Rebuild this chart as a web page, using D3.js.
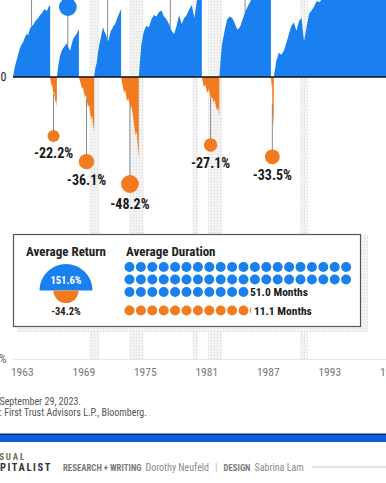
<!DOCTYPE html>
<html><head><meta charset="utf-8">
<script src="https://cdn.jsdelivr.net/npm/d3@7"></script>
<style>
html,body{margin:0;padding:0;background:#fff;overflow:hidden}
svg{display:block}
text{font-family:"Roboto Condensed","Liberation Sans Narrow","Arial Narrow","DejaVu Sans Condensed",sans-serif}
</style></head><body>
<svg id="c" width="386" height="483"></svg>
<script>
// ---------- DATA ----------
const bullStart = ["1962-06-26","1966-10-07","1970-05-26","1974-10-03","1982-08-12","1987-12-04"];
const bullEnd   = ["1966-02-09","1968-11-29","1973-01-11","1980-11-28","1987-08-25","2000-03-24"];
const bullReturn = [79.8, 48.0, 74.2, 125.6, 228.8, 582.1];
const bullPaths = [
  [0,8,14,20,26,30,33,38,42,41,48,52,53,57,60,62,66,68,72,74,71,77,79.8],
  [0,10,18,23,26,28,30,32,27,24,30,36,39,41,44,48],
  [0,8,12,22,30,36,44,50,45,42,38,34,40,46,48,52,53,57,62,66,70,74.2],
  [0,30,45,52,50,60,66,64,70,72,64,60,54,46,42,52,66,54,62,66,74,80,62,85,105,125.6],
  [0,30,45,60,64,62,55,47,50,60,70,78,85,95,110,130,125,140,170,195,228.8],
  [0,14,22,20,24,32,42,52,56,46,58,62,34,50,68,72,78,86,84,88,92,98,100,104,106,104,100,104,104,115,135,155,170,185,195,200,225,245,270,320,330,340,400,420,360,440,480,510,500,560,582.1]
];
const bearStart = ["1966-02-09","1968-11-29","1973-01-11","1980-11-28","1987-08-25"];
const bearEnd   = ["1966-10-07","1970-05-26","1974-10-03","1982-08-12","1987-12-04"];
const bearReturn = [-22.2, -36.1, -48.2, -27.1, -33.5];
const bearPaths = [
  [0,-4,-7,-6,-10,-13,-12,-16,-19,-17,-22.2],
  [0,-3,-6,-9,-8,-12,-15,-14,-18,-22,-20,-25,-29,-27,-32,-36.1],
  [0,-5,-9,-12,-10,-15,-18,-16,-20,-23,-21,-25,-30,-34,-38,-36,-43,-48.2],
  [0,-5,-8,-6,-10,-12,-9,-14,-16,-15,-19,-17,-21,-24,-22,-27.1],
  [0,-4,-8,-6,-33,-26,-30,-33.5]
];
const recessionStart = ["1969-12-01","1973-11-01","1980-01-01","1981-07-01","1990-07-01"];
const recessionEnd   = ["1970-11-30","1975-03-31","1980-07-31","1982-11-30","1991-03-31"];
const yearTicks = [1963,1969,1975,1981,1987,1993,1999];
const yTickValues = [0, -90];
const yTickLabels = ["0", "-90%"];
const legendTitles = ["Average Return", "Average Duration"];
const avgReturn = [151.6, -34.2];
const avgDuration = [51.0, 11.1];
const noteText = ["Note: Data as of ", "September 29, 2023."];
const sourceText = ["Source", ": First Trust Advisors L.P., Bloomberg."];
const credits = ["RESEARCH + WRITING", "Dorothy Neufeld", "|", "DESIGN", "Sabrina Lam"];

// ---------- SETUP ----------
const BLUE = "#1a80f0", ORANGE = "#f47a1f";
const parse = d3.timeParse("%Y-%m-%d");
const svg = d3.select("#c");
svg.append("rect").attr("width",386).attr("height",483).attr("fill","#fff");
const defs = svg.append("defs");
const pat = defs.append("pattern").attr("id","dots").attr("width",3).attr("height",3).attr("patternUnits","userSpaceOnUse");
pat.append("rect").attr("width",3).attr("height",3).attr("fill","#f4f4f4");
pat.append("circle").attr("cx",1.5).attr("cy",1.5).attr("r",0.7).attr("fill","#dcdcdc");

const x = d3.scaleTime().domain([new Date(1962,5,26), new Date(1998,10,16)]).range([13,386]);
const y = d3.scaleLog().domain([0.1, 1]).range([359, 77]);
const yv = v => y(1 + v/100);
const rScale = d3.scaleSqrt().domain([0, 48.2]).range([0, 8.9]);
const bearMarkY = d3.scaleLinear().domain([0, -50]).range([95, 187.3]);
const bullMarkY = d3.scaleLinear().domain([0, 48]).range([77, 7]);

function seg(s, e, vals){
  const a = parse(s), b = parse(e), n = vals.length;
  return vals.map((v,i)=>({t:new Date(+a + (b-a)*i/(n-1)), v}));
}
function valAt(vals, f){ const p = f*(vals.length-1), i = Math.floor(p); const j = Math.min(i+1, vals.length-1); return vals[i] + (vals[j]-vals[i])*(p-i); }

// recession bars
svg.append("g").selectAll("rect").data(recessionStart).join("rect")
  .attr("x",(d,i)=>x(parse(d)))
  .attr("width",(d,i)=>x(parse(recessionEnd[i]))-x(parse(d)))
  .attr("y",0).attr("height",359)
  .attr("fill","url(#dots)");

const area = d3.area().x(d=>x(d.t)).y0(y(1)).y1(d=>yv(d.v));
svg.append("g").selectAll("path").data(bullPaths).join("path")
  .attr("d",(d,i)=>area(seg(bullStart[i], bullEnd[i], d))).attr("fill",BLUE);
svg.append("g").selectAll("path").data(bearPaths).join("path")
  .attr("d",(d,i)=>area(seg(bearStart[i], bearEnd[i], d))).attr("fill",ORANGE);

// baseline
svg.append("line").attr("x1",13).attr("x2",386).attr("y1",y(1)).attr("y2",y(1)).attr("stroke","#111").attr("stroke-width",1.5);

// bull markers (their labels sit above the visible area)
const mid = (s,e)=> new Date((+parse(s) + +parse(e))/2);
const bullG = svg.append("g");
bullReturn.forEach((v,i)=>{
  const mx = x(mid(bullStart[i], bullEnd[i]));
  const cy = bullMarkY(v), r = rScale(v);
  bullG.append("line").attr("x1",mx).attr("x2",mx).attr("y1",cy).attr("y2",yv(valAt(bullPaths[i],0.5)))
    .attr("stroke","#8a8a8a").attr("stroke-width",1);
  bullG.append("circle").attr("cx",mx).attr("cy",cy).attr("r",r).attr("fill",BLUE);
});
// bear markers
const bearG = svg.append("g");
bearReturn.forEach((v,i)=>{
  const mx = x(mid(bearStart[i], bearEnd[i]));
  const cy = bearMarkY(v), r = rScale(-v);
  bearG.append("line").attr("x1",mx).attr("x2",mx).attr("y1",yv(valAt(bearPaths[i],0.5))).attr("y2",cy)
    .attr("stroke","#8a8a8a").attr("stroke-width",1);
  bearG.append("circle").attr("cx",mx).attr("cy",cy).attr("r",r).attr("fill",ORANGE);
  bearG.append("text").attr("x",mx).attr("y",cy+r+16).attr("text-anchor","middle")
    .attr("font-size",14).attr("font-weight",700).attr("fill","#1a1a1a").text(v.toFixed(1)+"%");
});

// axis
svg.append("line").attr("x1",13).attr("x2",386).attr("y1",359.5).attr("y2",359.5).attr("stroke","#e6e6e6");
svg.append("g").selectAll("text").data(yearTicks).join("text")
  .attr("x",d=>x(new Date(d,0,1))+4).attr("y",376).attr("text-anchor","middle")
  .attr("font-size",11.5).attr("fill","#777").text(d=>d);
svg.append("g").selectAll("text").data(yTickValues).join("text")
  .attr("x",6.5).attr("y",d=>yv(d)).attr("dy","0.36em").attr("text-anchor","end")
  .attr("font-size",12).attr("fill",(d,i)=>i===0?"#222":"#666").text((d,i)=>yTickLabels[i]);

// legend box
const lg = svg.append("g");
lg.append("rect").attr("x",17).attr("y",235).attr("width",351).attr("height",97).attr("fill","url(#dots)");
lg.append("rect").attr("x",13.5).attr("y",234.5).attr("width",347).attr("height",92).attr("fill","#fff").attr("stroke","#555").attr("stroke-width",1.2);
lg.append("text").attr("x",66).attr("y",256).attr("text-anchor","middle").attr("font-size",13).attr("font-weight",700).attr("fill","#222").text(legendTitles[0]);
const hr = d3.scaleSqrt().domain([0,151.6]).range([0,26.5]);
lg.append("path").attr("transform","translate(66,290.5)").attr("fill",BLUE)
  .attr("d", d3.arc()({innerRadius:0, outerRadius:hr(avgReturn[0]), startAngle:-Math.PI/2, endAngle:Math.PI/2}));
lg.append("path").attr("transform","translate(66,290.5)").attr("fill",ORANGE)
  .attr("d", d3.arc()({innerRadius:0, outerRadius:hr(-avgReturn[1]), startAngle:Math.PI/2, endAngle:Math.PI*1.5}));
lg.append("text").attr("x",66).attr("y",284).attr("text-anchor","middle").attr("font-size",10.5).attr("font-weight",700).attr("fill","#fff").text(avgReturn[0].toFixed(1)+"%");
lg.append("text").attr("x",66).attr("y",315).attr("text-anchor","middle").attr("font-size",10.5).attr("font-weight",700).attr("fill","#222").text(avgReturn[1].toFixed(1)+"%");

lg.append("text").attr("x",126).attr("y",256).attr("font-size",13).attr("font-weight",700).attr("fill","#222").text(legendTitles[1]);
const dx0 = 129.5, dstep = 11.4, dr = 5, perRow = 20;
const rowY = [267, 279.5, 292];
const blueFull = Math.floor(avgDuration[0]);
const blueDots = d3.range(blueFull).map(i=>({cx:dx0 + (i%perRow)*dstep, cy:rowY[Math.floor(i/perRow)]}));
lg.append("g").selectAll("circle").data(blueDots).join("circle").attr("cx",d=>d.cx).attr("cy",d=>d.cy).attr("r",dr).attr("fill",BLUE);
const lastBlue = blueDots[blueDots.length-1];
lg.append("text").attr("x",lastBlue.cx+dr+1.5).attr("y",lastBlue.cy+4).attr("font-size",11.5).attr("font-weight",700).attr("fill","#1a1a1a").text(avgDuration[0].toFixed(1)+" Months");
const oy = 310.5;
const orFull = Math.floor(avgDuration[1]);
const orFrac = avgDuration[1]-orFull;
const orDots = d3.range(orFull).map(i=>({cx:dx0 + i*dstep, cy:oy}));
lg.append("g").selectAll("circle").data(orDots).join("circle").attr("cx",d=>d.cx).attr("cy",d=>d.cy).attr("r",dr).attr("fill",ORANGE);
const pcx = dx0 + orFull*dstep;
defs.append("clipPath").attr("id","part").append("rect").attr("x",pcx-dr).attr("y",oy-dr).attr("width",2*dr*orFrac+0.3).attr("height",2*dr);
lg.append("circle").attr("cx",pcx).attr("cy",oy).attr("r",dr).attr("fill",ORANGE).attr("clip-path","url(#part)");
lg.append("text").attr("x",pcx-dr+2*dr*orFrac+3).attr("y",oy+4).attr("font-size",11.5).attr("font-weight",700).attr("fill","#1a1a1a").text(avgDuration[1].toFixed(1)+" Months");

// footer notes
function cutText(parts, yy){
  const t = svg.append("text").attr("y",yy).attr("font-size",10).attr("fill","#555");
  const a = t.append("tspan").text(parts[0]);
  t.append("tspan").text(parts[1]);
  const w = a.node().getComputedTextLength();
  t.attr("x",-w-0.5);
}
cutText(noteText, 405);
cutText(sourceText, 416);

// blue bar
svg.append("rect").attr("x",0).attr("y",434).attr("width",386).attr("height",8).attr("fill","#0f5fdc");
svg.append("rect").attr("x",0).attr("y",433.5).attr("width",386).attr("height",1.5).attr("fill","#0a2d7a");

// logo + credits
svg.append("text").attr("x",26).attr("y",460).attr("text-anchor","end").attr("font-size",9).attr("font-weight",700).attr("letter-spacing",1.8).attr("fill","#6e6c52").text("VISUAL");
svg.append("text").attr("x",52).attr("y",470.5).attr("text-anchor","end").attr("font-size",10.5).attr("font-weight",700).attr("letter-spacing",1.6).attr("fill","#333").text("CAPITALIST");
const crBold = [true, false, false, true, false];
const crSize = [8.8, 10, 10, 8.8, 10];
const crFill = ["#7a7a7a", "#8a8a8a", "#bdbdbd", "#7a7a7a", "#8a8a8a"];
const crGap = [4, 6, 6, 4, 0];
let cx = 63;
credits.forEach((c,i)=>{
  const t = svg.append("text").attr("x",cx).attr("y",470.5).attr("font-size",crSize[i])
    .attr("font-weight",crBold[i]?700:400).attr("fill",crFill[i]).text(c);
  cx += t.node().getComputedTextLength() + crGap[i];
});
svg.append("line").attr("x1",cx+8).attr("x2",386).attr("y1",467).attr("y2",467).attr("stroke","#c8c8c8").attr("stroke-width",1);
</script>
</body></html>
